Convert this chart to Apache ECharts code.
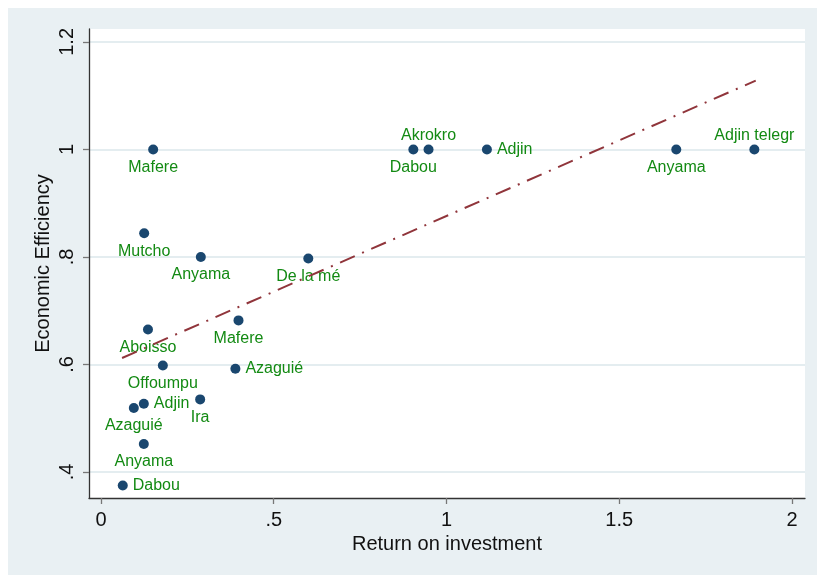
<!DOCTYPE html>
<html>
<head>
<meta charset="utf-8">
<script src="https://cdn.jsdelivr.net/npm/echarts@6/dist/echarts.min.js"></script>
<style>
  html, body { margin: 0; padding: 0; background: #fff; }
  #frame { position: absolute; left: 8px; top: 8px; width: 809px; height: 567px; background: #e9f0f3; }
  #chart { position: absolute; left: 0; top: 0; width: 817px; height: 575px; }
</style>
</head>
<body>
<div id="frame"></div>
<div id="chart"></div>
<script>
const siteNames = ["Mafere", "Mutcho", "Anyama", "De la mé", "Dabou", "Akrokro", "Adjin", "Anyama", "Adjin telegr",
  "Aboisso", "Mafere", "Offoumpu", "Azaguié", "Adjin", "Azaguié", "Ira", "Anyama", "Dabou"];
const returnOnInvestment = [0.151, 0.125, 0.289, 0.600, 0.904, 0.948, 1.117, 1.665, 1.891,
  0.136, 0.398, 0.179, 0.389, 0.124, 0.095, 0.287, 0.124, 0.063];
const economicEfficiency = [1.0, 0.844, 0.800, 0.797, 1.0, 1.0, 1.0, 1.0, 1.0,
  0.665, 0.682, 0.598, 0.592, 0.527, 0.519, 0.535, 0.452, 0.375];
const labelSide = ["bottom", "bottom", "bottom", "bottom", "bottom", "top", "right", "bottom", "top",
  "bottom", "bottom", "bottom", "right", "right", "bottom", "bottom", "bottom", "right"];

const fitX = [0.061, 1.895];
const fitY = [0.612, 1.128];

const xTicks = [0, 0.5, 1, 1.5, 2];
const yTicks = [0.4, 0.6, 0.8, 1, 1.2];

const stataNum = (v) => String(v).replace(/^0(?=\.)/, "");
const font = "'Liberation Sans', Arial, sans-serif";

const chart = echarts.init(document.getElementById("chart"), null, { renderer: "canvas" });

chart.setOption({
  backgroundColor: "transparent",
  animation: false,
  grid: {
    left: 89,
    top: 29,
    right: 12,
    bottom: 77,
    show: true,
    backgroundColor: "#ffffff",
    borderWidth: 0,
  },
  xAxis: {
    type: "value",
    min: -0.0347,
    max: 2.0376,
    name: "Return on investment",
    nameLocation: "middle",
    nameGap: 34,
    nameTextStyle: { fontFamily: font, fontSize: 20, color: "#111" },
    axisLine: { onZero: false, lineStyle: { color: "#333", width: 1.3 } },
    axisTick: { customValues: xTicks, length: 6, lineStyle: { color: "#777", width: 1.3 } },
    axisLabel: {
      customValues: xTicks,
      margin: 12,
      fontFamily: font,
      fontSize: 20,
      color: "#111",
      formatter: stataNum,
    },
    splitLine: { show: false },
  },
  yAxis: {
    type: "value",
    min: 0.3516,
    max: 1.224,
    name: "Economic Efficiency",
    nameLocation: "middle",
    nameGap: 36,
    nameMoveOverlap: false,
    nameTextStyle: { fontFamily: font, fontSize: 20, color: "#111" },
    axisLine: { show: true, onZero: false, lineStyle: { color: "#333", width: 1.3 } },
    axisTick: { show: true, customValues: yTicks, length: 6, lineStyle: { color: "#777", width: 1.3 } },
    axisLabel: {
      customValues: yTicks,
      rotate: 90,
      margin: 12,
      fontFamily: font,
      fontSize: 20,
      color: "#111",
      formatter: stataNum,
    },
    splitLine: { show: true, lineStyle: { color: "#e4edf0", width: 2 } },
  },
  series: [
    {
      name: "sites",
      type: "scatter",
      symbol: "circle",
      symbolSize: 10,
      itemStyle: { color: "#1a476f", opacity: 1 },
      data: returnOnInvestment.map((x, i) => ({
        value: [x, economicEfficiency[i]],
        name: siteNames[i],
        label: {
          show: true,
          position: labelSide[i],
          distance: labelSide[i] === "top" ? 1 : 5,
        },
      })),
      label: {
        formatter: (p) => p.name,
        fontFamily: font,
        fontSize: 16,
        color: "#138a13",
      },
      z: 3,
    },
    {
      name: "fit",
      type: "line",
      symbol: "none",
      lineStyle: { color: "#90353b", width: 2, type: [16, 8, 2, 8] },
      data: fitX.map((x, i) => [x, fitY[i]]),
      z: 4,
    },
  ],
});
</script>
</body>
</html>
